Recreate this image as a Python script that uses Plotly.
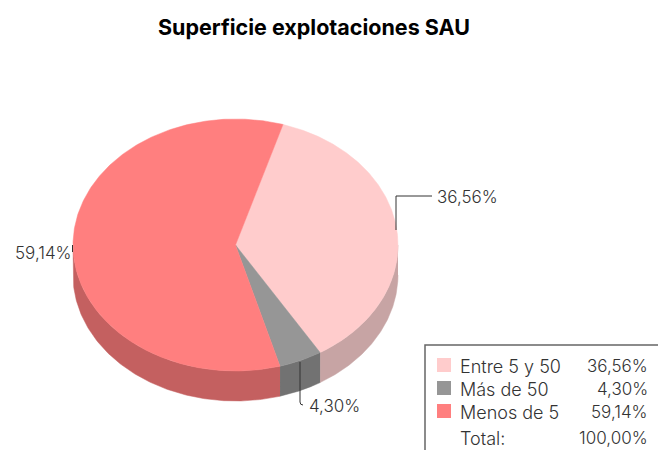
import numpy as np
import plotly.graph_objects as go

TITLE = "Superficie explotaciones SAU"
categories = ["Entre 5 y 50", "Más de 50", "Menos de 5"]
values = [36.56, 4.30, 59.14]
total_label = "Total:"
total_value = 100.00
colors_top = ["#FFCCCC", "#969696", "#FF7F7F"]
colors_side = ["#C7A4A4", "#727272", "#C46060"]

W, H = 658, 450
CX, CY, RX, RY, DEPTH = 235.5, 245, 162.5, 126, 30
START_DEG = 17.0
FONT = "Inter, 'Open Sans', sans-serif"
TEXT = "#333333"


def fmt(v):
    return f"{v:.2f}".replace(".", ",") + "%"


def ell(deg, dy=0):
    t = np.radians(deg)
    return CX + RX * np.sin(t), CY - RY * np.cos(t) + dy


fig = go.Figure()
edges = START_DEG + np.concatenate([[0], np.cumsum(values)]) * 3.6
spans = list(zip(edges[:-1], edges[1:]))

# side wall: only the part of each slice on the front half of the ellipse
for (a, b), c in zip(spans, colors_side):
    lo, hi = max(a, 90), min(b, 270)
    if hi <= lo:
        continue
    t = np.linspace(lo, hi, 160)
    x1, y1 = ell(t)
    x2, y2 = ell(t[::-1], DEPTH)
    fig.add_trace(go.Scatter(x=np.r_[x1, x2], y=np.r_[y1, y2], mode="lines",
                             fill="toself", fillcolor=c, line=dict(width=0.5, color=c),
                             hoverinfo="skip", showlegend=False))

# top face
for (a, b), c in zip(spans, colors_top):
    t = np.linspace(a, b, 300)
    x, y = ell(t)
    fig.add_trace(go.Scatter(x=np.r_[CX, x, CX], y=np.r_[CY, y, CY], mode="lines",
                             fill="toself", fillcolor=c, line=dict(width=0.5, color=c),
                             hoverinfo="skip", showlegend=False))

# leader lines
LINE = dict(color="#333333", width=1)
shapes = [
    dict(type="path", path="M 396 230 L 396 196 L 432 196", line=LINE),
    dict(type="path", path="M 300 362 L 300 402 Q 300 405 303 405", line=LINE),
    dict(type="line", x0=72.5, x1=72.5, y0=245, y1=252, line=LINE),
    # legend frame runs off the canvas to the right and bottom
    dict(type="rect", x0=425, y0=345, x1=W + 10, y1=H + 10,
         line=dict(color="#666666", width=1.5), fillcolor="#FFFFFF", layer="above"),
]

NUM = dict(size=17, color=TEXT, weight=300)
NAME = dict(size=18, color=TEXT, weight=300)

anns = [
    dict(x=313.5, y=27, text=f"<b>{TITLE}</b>", font=dict(size=21.5, color="#000000")),
    dict(x=436, y=197, text=fmt(values[0]), xanchor="left", font=dict(NUM)),
    dict(x=308, y=406, text=fmt(values[1]), xanchor="left", font=dict(NUM)),
    dict(x=73, y=253, text=fmt(values[2]), xanchor="right", font=dict(NUM)),
]

row_y = [366, 389, 412, 438]
for y, name, v, c in zip(row_y, categories, values, colors_top):
    shapes.append(dict(type="rect", x0=437, x1=451, y0=y - 8, y1=y + 6,
                       fillcolor=c, line=dict(width=0), layer="above"))
    anns.append(dict(x=459, y=y, text=name, xanchor="left", font=dict(NAME)))
    anns.append(dict(x=649, y=y, text=fmt(v), xanchor="right", font=dict(NUM)))
anns.append(dict(x=459, y=row_y[3], text=total_label, xanchor="left", font=dict(NAME)))
anns.append(dict(x=649, y=row_y[3], text=fmt(total_value), xanchor="right", font=dict(NUM)))

for a in anns:
    a.update(xref="x", yref="y", showarrow=False, yanchor="middle", borderpad=0)
    a.setdefault("xanchor", "center")
    a["font"]["family"] = FONT

fig.update_layout(
    width=W, height=H, margin=dict(l=0, r=0, t=0, b=0),
    paper_bgcolor="#FFFFFF", plot_bgcolor="#FFFFFF", showlegend=False,
    xaxis=dict(range=[0, W], visible=False, fixedrange=True),
    yaxis=dict(range=[H, 0], visible=False, fixedrange=True),
    shapes=shapes, annotations=anns,
)
fig.write_html("out.html", config=dict(displayModeBar=False),
               post_script="document.body.style.margin='0';document.body.style.overflow='hidden';")
